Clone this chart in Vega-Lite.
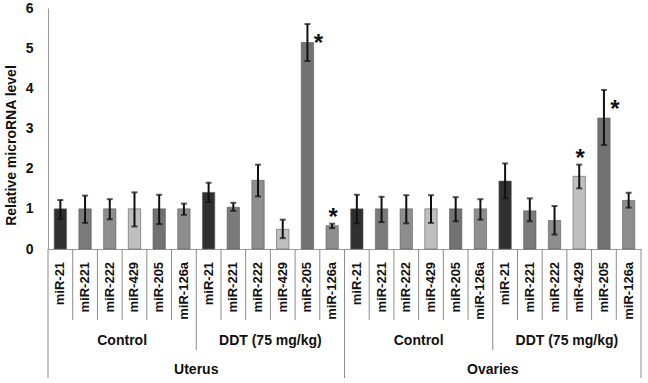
{
  "$schema": "https://vega.github.io/schema/vega-lite/v6.json",
  "autosize": {"type": "pad"},
  "padding": {"left": 4, "top": 1, "right": 7, "bottom": 5},
  "background": "white",
  "config": {
    "font": "Liberation Sans",
    "view": {"stroke": null},
    "concat": {"spacing": 0}
  },
  "bounds": "flush",
  "spacing": 0,
  "resolve": {"scale": {"x": "shared"}},
  "datasets": {
    "mirna": [
      {"cat": "U-C-21", "tissue": "Uterus", "treatment": "Control", "gene": "miR-21", "mean": 1.0, "lo": 0.75, "hi": 1.22, "sig": ""},
      {"cat": "U-C-221", "tissue": "Uterus", "treatment": "Control", "gene": "miR-221", "mean": 1.0, "lo": 0.65, "hi": 1.33, "sig": ""},
      {"cat": "U-C-222", "tissue": "Uterus", "treatment": "Control", "gene": "miR-222", "mean": 1.0, "lo": 0.74, "hi": 1.24, "sig": ""},
      {"cat": "U-C-429", "tissue": "Uterus", "treatment": "Control", "gene": "miR-429", "mean": 1.0, "lo": 0.56, "hi": 1.41, "sig": ""},
      {"cat": "U-C-205", "tissue": "Uterus", "treatment": "Control", "gene": "miR-205", "mean": 1.0, "lo": 0.62, "hi": 1.35, "sig": ""},
      {"cat": "U-C-126a", "tissue": "Uterus", "treatment": "Control", "gene": "miR-126a", "mean": 1.0, "lo": 0.85, "hi": 1.13, "sig": ""},
      {"cat": "U-D-21", "tissue": "Uterus", "treatment": "DDT (75 mg/kg)", "gene": "miR-21", "mean": 1.41, "lo": 1.17, "hi": 1.65, "sig": ""},
      {"cat": "U-D-221", "tissue": "Uterus", "treatment": "DDT (75 mg/kg)", "gene": "miR-221", "mean": 1.04, "lo": 0.95, "hi": 1.15, "sig": ""},
      {"cat": "U-D-222", "tissue": "Uterus", "treatment": "DDT (75 mg/kg)", "gene": "miR-222", "mean": 1.71, "lo": 1.31, "hi": 2.10, "sig": ""},
      {"cat": "U-D-429", "tissue": "Uterus", "treatment": "DDT (75 mg/kg)", "gene": "miR-429", "mean": 0.49, "lo": 0.27, "hi": 0.73, "sig": ""},
      {"cat": "U-D-205", "tissue": "Uterus", "treatment": "DDT (75 mg/kg)", "gene": "miR-205", "mean": 5.14, "lo": 4.68, "hi": 5.60, "sig": "*"},
      {"cat": "U-D-126a", "tissue": "Uterus", "treatment": "DDT (75 mg/kg)", "gene": "miR-126a", "mean": 0.58, "lo": 0.52, "hi": 0.63, "sig": "*"},
      {"cat": "O-C-21", "tissue": "Ovaries", "treatment": "Control", "gene": "miR-21", "mean": 1.0, "lo": 0.64, "hi": 1.35, "sig": ""},
      {"cat": "O-C-221", "tissue": "Ovaries", "treatment": "Control", "gene": "miR-221", "mean": 1.0, "lo": 0.67, "hi": 1.30, "sig": ""},
      {"cat": "O-C-222", "tissue": "Ovaries", "treatment": "Control", "gene": "miR-222", "mean": 1.0, "lo": 0.64, "hi": 1.34, "sig": ""},
      {"cat": "O-C-429", "tissue": "Ovaries", "treatment": "Control", "gene": "miR-429", "mean": 1.0, "lo": 0.65, "hi": 1.34, "sig": ""},
      {"cat": "O-C-205", "tissue": "Ovaries", "treatment": "Control", "gene": "miR-205", "mean": 1.0, "lo": 0.69, "hi": 1.29, "sig": ""},
      {"cat": "O-C-126a", "tissue": "Ovaries", "treatment": "Control", "gene": "miR-126a", "mean": 1.0, "lo": 0.73, "hi": 1.24, "sig": ""},
      {"cat": "O-D-21", "tissue": "Ovaries", "treatment": "DDT (75 mg/kg)", "gene": "miR-21", "mean": 1.69, "lo": 1.26, "hi": 2.13, "sig": ""},
      {"cat": "O-D-221", "tissue": "Ovaries", "treatment": "DDT (75 mg/kg)", "gene": "miR-221", "mean": 0.95, "lo": 0.69, "hi": 1.26, "sig": ""},
      {"cat": "O-D-222", "tissue": "Ovaries", "treatment": "DDT (75 mg/kg)", "gene": "miR-222", "mean": 0.71, "lo": 0.36, "hi": 1.07, "sig": ""},
      {"cat": "O-D-429", "tissue": "Ovaries", "treatment": "DDT (75 mg/kg)", "gene": "miR-429", "mean": 1.81, "lo": 1.51, "hi": 2.10, "sig": "*"},
      {"cat": "O-D-205", "tissue": "Ovaries", "treatment": "DDT (75 mg/kg)", "gene": "miR-205", "mean": 3.26, "lo": 2.59, "hi": 3.96, "sig": "*"},
      {"cat": "O-D-126a", "tissue": "Ovaries", "treatment": "DDT (75 mg/kg)", "gene": "miR-126a", "mean": 1.21, "lo": 1.03, "hi": 1.40, "sig": ""}
    ]
  },
  "vconcat": [
    {
      "width": 593,
      "height": 241,
      "data": {"name": "mirna"},
      "layer": [
        {
          "mark": {"type": "bar", "width": {"band": 0.5}, "stroke": "#5a5a5a", "strokeWidth": 0.6},
          "encoding": {
            "x": {"field": "cat", "type": "nominal", "sort": null,
                  "scale": {"paddingInner": 0, "paddingOuter": 0,
                            "domain": ["U-C-21", "U-C-221", "U-C-222", "U-C-429", "U-C-205", "U-C-126a", "U-D-21", "U-D-221", "U-D-222", "U-D-429", "U-D-205", "U-D-126a", "O-C-21", "O-C-221", "O-C-222", "O-C-429", "O-C-205", "O-C-126a", "O-D-21", "O-D-221", "O-D-222", "O-D-429", "O-D-205", "O-D-126a"]},
                  "axis": {"labels": false, "ticks": false, "title": null, "domainColor": "#9a9a9a", "domainWidth": 1}},
            "y": {"field": "mean", "type": "quantitative",
                  "scale": {"domain": [0, 6], "nice": false},
                  "axis": {"values": [0, 1, 2, 3, 4, 5, 6], "grid": false, "ticks": false, "domainColor": "#9a9a9a",
                           "labelFont": "Liberation Sans", "labelFontWeight": "bold", "labelFontSize": 14, "labelColor": "#111",
                           "labelPadding": 15, "title": "Relative microRNA level", "titleFontSize": 14, "titleFontWeight": "bold",
                           "titleColor": "#111", "titleX": -37, "titleY": 137, "titleAlign": "center", "titleBaseline": "middle", "titleAngle": 270}},
            "color": {"field": "gene", "type": "nominal", "legend": null,
                      "scale": {"domain": ["miR-21", "miR-221", "miR-222", "miR-429", "miR-205", "miR-126a"],
                                "range": ["#303030", "#7a7a7a", "#8e8e8e", "#bfbfbf", "#727272", "#8e8e8e"]}}
          }
        },
        {
          "mark": {"type": "rule", "color": "#111", "strokeWidth": 2},
          "encoding": {
            "x": {"field": "cat", "type": "nominal", "sort": null},
            "y": {"field": "lo", "type": "quantitative"},
            "y2": {"field": "hi"}
          }
        },
        {
          "mark": {"type": "tick", "color": "#111", "thickness": 2, "size": 6},
          "encoding": {
            "x": {"field": "cat", "type": "nominal", "sort": null},
            "y": {"field": "lo", "type": "quantitative"}
          }
        },
        {
          "mark": {"type": "tick", "color": "#111", "thickness": 2, "size": 6},
          "encoding": {
            "x": {"field": "cat", "type": "nominal", "sort": null},
            "y": {"field": "hi", "type": "quantitative"}
          }
        },
        {
          "transform": [{"filter": "datum.sig == '*' && datum.gene == 'miR-205'"}],
          "mark": {"type": "text", "fontSize": 24, "fontWeight": "bold", "baseline": "alphabetic", "dx": 11, "dy": 27, "color": "#111"},
          "encoding": {
            "x": {"field": "cat", "type": "nominal", "sort": null},
            "y": {"field": "hi", "type": "quantitative"},
            "text": {"field": "sig"}
          }
        },
        {
          "transform": [{"filter": "datum.sig == '*' && datum.gene != 'miR-205'"}],
          "mark": {"type": "text", "fontSize": 24, "fontWeight": "bold", "baseline": "alphabetic", "dx": 1, "dy": 1, "color": "#111"},
          "encoding": {
            "x": {"field": "cat", "type": "nominal", "sort": null},
            "y": {"field": "hi", "type": "quantitative"},
            "text": {"field": "sig"}
          }
        }
      ]
    },
    {
      "width": 593,
      "height": 129,
      "data": {"name": "mirna"},
      "layer": [
        {
          "transform": [{"filter": "datum.gene != 'miR-21'"}],
          "mark": {"type": "rule", "color": "#8c8c8c", "strokeWidth": 1},
          "encoding": {
            "x": {"field": "cat", "type": "nominal", "sort": null, "bandPosition": 0, "axis": null},
            "y": {"datum": 0, "type": "quantitative", "scale": {"domain": [0, 3], "nice": false, "reverse": true}, "axis": null},
            "y2": {"datum": 1.65}
          }
        },
        {
          "transform": [{"filter": "datum.gene == 'miR-21' && datum.treatment != 'Control'"}],
          "mark": {"type": "rule", "color": "#8c8c8c", "strokeWidth": 1},
          "encoding": {
            "x": {"field": "cat", "type": "nominal", "sort": null, "bandPosition": 0},
            "y": {"datum": 0, "type": "quantitative"},
            "y2": {"datum": 2.35}
          }
        },
        {
          "transform": [{"filter": "datum.gene == 'miR-21' && datum.treatment == 'Control'"}],
          "mark": {"type": "rule", "color": "#8c8c8c", "strokeWidth": 1},
          "encoding": {
            "x": {"field": "cat", "type": "nominal", "sort": null, "bandPosition": 0},
            "y": {"datum": 0, "type": "quantitative"},
            "y2": {"datum": 3}
          }
        },
        {
          "transform": [{"filter": "datum.tissue == 'Ovaries' && datum.treatment != 'Control' && datum.gene == 'miR-126a'"}],
          "mark": {"type": "rule", "color": "#8c8c8c", "strokeWidth": 1},
          "encoding": {
            "x": {"field": "cat", "type": "nominal", "sort": null, "bandPosition": 1},
            "y": {"datum": 0, "type": "quantitative"},
            "y2": {"datum": 3}
          }
        },
        {
          "mark": {"type": "text", "angle": 270, "align": "right", "baseline": "middle", "fontSize": 13, "fontWeight": "bold", "color": "#111"},
          "encoding": {
            "x": {"field": "cat", "type": "nominal", "sort": null},
            "y": {"datum": 0.3, "type": "quantitative"},
            "text": {"field": "gene"}
          }
        },
        {
          "transform": [{"filter": "datum.gene == 'miR-429'"}],
          "mark": {"type": "text", "align": "center", "baseline": "middle", "fontSize": 14, "fontWeight": "bold", "color": "#111"},
          "encoding": {
            "x": {"field": "cat", "type": "nominal", "sort": null, "bandPosition": 0},
            "y": {"datum": 2.13, "type": "quantitative"},
            "text": {"field": "treatment"}
          }
        },
        {
          "transform": [{"filter": "datum.gene == 'miR-21' && datum.treatment != 'Control'"}],
          "mark": {"type": "text", "align": "center", "baseline": "middle", "fontSize": 14, "fontWeight": "bold", "color": "#111"},
          "encoding": {
            "x": {"field": "cat", "type": "nominal", "sort": null, "bandPosition": 0},
            "y": {"datum": 2.81, "type": "quantitative"},
            "text": {"field": "tissue"}
          }
        }
      ]
    }
  ]
}
